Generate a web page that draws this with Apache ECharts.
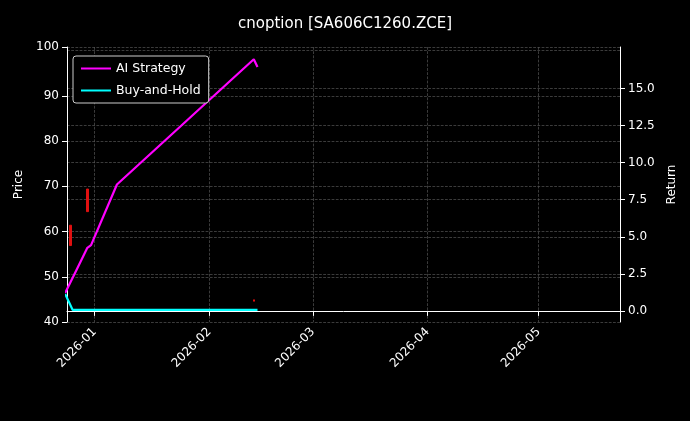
<!DOCTYPE html>
<html>
<head>
<meta charset="utf-8">
<script src="https://cdn.jsdelivr.net/npm/echarts@6/dist/echarts.min.js"></script>
<style>html,body{margin:0;background:#000;}#main{width:690px;height:421px;}</style>
</head>
<body>
<div id="main"></div>
<script>
// 數據
const candleDates = ['2025-12-25 12:00', '2025-12-30', '2026-01-07', '2026-02-13'];
const candleOpen = [61, 69, 97, 44.5];
const candleClose = [56.5, 64, 93, 44.2];
const candleLow = [56.5, 64, 93, 44.2];
const candleHigh = [61, 69, 97, 44.5];

const aiDates = ['2025-12-24', '2025-12-27', '2025-12-30', '2025-12-31', '2026-01-07', '2026-02-13', '2026-02-14'];
const aiValues = [46, 51, 56, 56.6, 70, 97.7, 96];

const bhDates = ['2025-12-24', '2025-12-26', '2026-01-15', '2026-02-14'];
const bhValues = [45.8, 42.3, 42.3, 42.3];

const returnTicks = [0, 2.5, 5, 7.5, 10, 12.5, 15];

const chartDom = document.getElementById('main');
const myChart = echarts.init(chartDom);
const gridLine = { show: true, lineStyle: { color: '#555', type: 'dashed', width: 0.7 } };
const option = {
    backgroundColor: '#000',
    animation: false,
    title: {
        text: 'cnoption [SA606C1260.ZCE]',
        left: 'center', top: 12,
        textStyle: { color: '#fff', fontSize: 15, fontWeight: 'normal', fontFamily: 'DejaVu Sans' }
    },
    legend: {
        left: 73, top: 56, orient: 'vertical',
        backgroundColor: '#000', borderColor: '#ccc', borderWidth: 1, borderRadius: 3,
        padding: [6, 8], itemGap: 9, itemWidth: 30, itemHeight: 2,
        textStyle: { color: '#fff', fontSize: 12.5, fontFamily: 'DejaVu Sans' },
        data: [{ name: 'AI Strategy', icon: 'rect' }, { name: 'Buy-and-Hold', icon: 'rect' }]
    },
    grid: { left: 67, right: 70, top: 47, bottom: 99 },
    xAxis: {
        type: 'time',
        min: '2025-12-24 12:00', max: '2026-05-23',
        axisLine: { lineStyle: { color: '#fff' } },
        axisTick: { lineStyle: { color: '#fff' } },
        axisLabel: {
            color: '#fff', rotate: 45, fontSize: 12, fontFamily: 'DejaVu Sans',
            formatter: function (v) {
                const d = new Date(v);
                return d.getFullYear() + '-' + String(d.getMonth() + 1).padStart(2, '0');
            }
        },
        splitLine: gridLine
    },
    yAxis: [{
        type: 'value', min: 39.6, max: 100.4, interval: 10,
        name: 'Price', nameLocation: 'middle', nameGap: 42,
        nameTextStyle: { color: '#fff', fontSize: 12, fontFamily: 'DejaVu Sans' },
        axisLine: { show: true, lineStyle: { color: '#fff' } },
        axisTick: { show: true, lineStyle: { color: '#fff' } },
        axisLabel: { color: '#fff', fontSize: 12, fontFamily: 'DejaVu Sans',
            showMinLabel: true, showMaxLabel: true, formatter: v => Math.round(v) },
        splitLine: gridLine
    }, {
        type: 'value', min: -0.75, max: 17.8,
        name: 'Return', nameLocation: 'middle', nameGap: 42,
        nameTextStyle: { color: '#fff', fontSize: 12, fontFamily: 'DejaVu Sans' },
        axisLine: { show: true, lineStyle: { color: '#fff' } },
        axisTick: { show: true, customValues: returnTicks, lineStyle: { color: '#fff' } },
        axisLabel: { color: '#fff', fontSize: 12, fontFamily: 'DejaVu Sans',
            customValues: returnTicks, formatter: v => v.toFixed(1) },
        splitLine: gridLine
    }],
    series: [{
        type: 'candlestick', yAxisIndex: 0, barMaxWidth: 2,
        itemStyle: { color: '#e01010', color0: '#e01010', borderColor: '#e01010', borderColor0: '#e01010' },
        data: candleDates.map((d, i) => [d, candleOpen[i], candleClose[i], candleLow[i], candleHigh[i]])
    }, {
        name: 'AI Strategy', type: 'line', yAxisIndex: 0, showSymbol: false,
        lineStyle: { color: '#ff00ff', width: 2.2 }, itemStyle: { color: '#ff00ff' },
        data: aiDates.map((d, i) => [d, aiValues[i]])
    }, {
        name: 'Buy-and-Hold', type: 'line', yAxisIndex: 0, showSymbol: false,
        lineStyle: { color: '#00ffff', width: 2.2 }, itemStyle: { color: '#00ffff' },
        data: bhDates.map((d, i) => [d, bhValues[i]])
    }]
};
option && myChart.setOption(option);
</script>
</body>
</html>
